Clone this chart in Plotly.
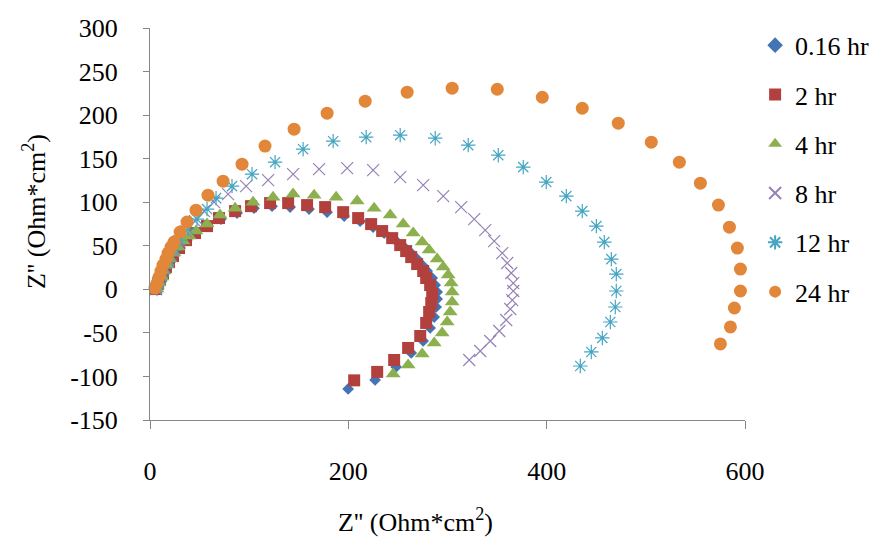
import plotly.graph_objects as go

# ---- data ----
series_names = ["0.16 hr", "2 hr", "4 hr", "8 hr", "12 hr", "24 hr"]

x_016 = [6.1, 8.1, 10.1, 13.1, 16.1, 20.2, 24.2, 30.3, 37.3, 46.4, 58.5, 71.6, 87.8, 104.9, 123.1, 141.3,
         160.4, 178.6, 195.8, 211.9, 225.0, 236.1, 246.2, 255.3, 262.4, 268.4, 274.5, 279.5, 284.6, 287.6,
         289.6, 289.6, 288.6, 286.6, 282.5, 275.5, 263.4, 248.2, 227.0, 199.8]
y_016 = [0.3, 6.1, 11.8, 18.7, 24.4, 31.3, 38.2, 47.4, 56.5, 64.6, 72.6, 80.6, 87.5, 93.2, 95.5, 94.4,
         92.1, 88.6, 84.1, 78.3, 71.4, 64.6, 57.7, 49.7, 42.8, 35.9, 27.9, 21.0, 13.0, 4.9,
         -3.1, -11.1, -20.3, -31.8, -44.4, -59.3, -73.0, -89.1, -104.0, -114.3]

x_2 = [6.1, 8.1, 10.1, 13.1, 16.1, 19.2, 23.2, 29.3, 36.3, 45.4, 57.5, 69.6, 85.8, 101.9, 121.1, 139.3,
       158.4, 176.6, 194.8, 209.9, 223.0, 234.1, 244.2, 252.3, 258.3, 263.4, 269.4, 275.5, 278.5, 282.5,
       284.6, 283.6, 281.5, 278.5, 272.5, 260.3, 246.2, 229.1, 205.9]
y_2 = [0.3, 6.1, 11.8, 18.7, 25.6, 31.3, 38.2, 47.4, 56.5, 64.6, 72.6, 81.8, 89.8, 95.5, 99.0, 99.0,
       96.7, 94.4, 88.6, 81.8, 74.9, 66.9, 58.8, 50.8, 43.9, 37.0, 29.0, 21.0, 13.0, 4.9,
       -5.4, -15.7, -26.0, -38.6, -53.6, -67.3, -81.1, -94.8, -104.5]

x_4 = [7.1, 9.1, 12.1, 14.1, 17.2, 20.2, 24.2, 28.3, 33.3, 39.4, 46.4, 57.5, 70.6, 85.8, 103.9, 124.1,
       144.3, 165.5, 187.7, 208.9, 226.0, 242.2, 255.3, 265.4, 274.5, 281.5, 289.6, 295.7, 300.7, 303.7,
       304.7, 304.7, 302.7, 299.7, 294.6, 286.6, 274.5, 260.3, 245.2]
y_4 = [0.3, 7.2, 14.1, 21.0, 27.9, 34.8, 41.6, 48.5, 55.4, 61.1, 66.9, 74.9, 85.2, 93.2, 100.1, 105.8,
       109.3, 108.1, 105.8, 101.3, 93.2, 85.2, 74.9, 64.6, 54.2, 45.1, 34.7, 25.6, 16.4, 7.2,
       -3.1, -14.6, -26.0, -37.5, -50.0, -61.6, -74.2, -86.8, -97.1]

x_8 = [6.1, 8.1, 11.1, 14.1, 18.2, 23.2, 29.3, 36.3, 45.4, 54.5, 64.6, 78.7, 96.9, 119.1, 144.3, 170.5,
       198.8, 225.0, 252.3, 275.5, 295.7, 313.8, 326.9, 338.0, 347.1, 355.2, 360.2, 364.3, 366.3, 366.3,
       365.3, 363.3, 359.2, 352.2, 343.1, 333.0, 321.9]
y_8 = [0.3, 7.2, 15.3, 24.4, 33.6, 43.9, 55.4, 66.9, 78.3, 89.8, 100.1, 109.3, 118.5, 125.3, 132.2, 138.0,
       139.1, 136.8, 128.8, 119.6, 107.0, 94.4, 80.6, 68.0, 55.4, 41.6, 30.2, 18.7, 7.2, -1.9,
       -12.3, -22.6, -35.2, -47.8, -59.3, -70.8, -81.1]

x_12 = [7.1, 9.1, 12.1, 15.1, 19.2, 24.2, 30.3, 38.3, 47.4, 57.5, 66.6, 82.7, 102.9, 126.1, 154.4, 184.7,
        218.0, 252.3, 287.6, 320.9, 351.2, 376.4, 399.6, 419.8, 435.9, 450.1, 458.1, 465.2, 470.2, 470.2,
        469.2, 464.2, 456.1, 445.0, 433.9]
y_12 = [0.3, 7.2, 15.3, 24.4, 33.6, 45.1, 56.5, 69.2, 80.6, 92.1, 104.7, 118.5, 132.2, 146.0, 160.9, 170.1,
        174.7, 177.0, 173.5, 165.5, 154.0, 140.3, 123.1, 107.0, 89.8, 72.6, 54.2, 34.7, 17.5, -1.9,
        -20.3, -37.5, -55.8, -71.9, -88.0]

x_24 = [5.0, 7.1, 9.1, 11.1, 13.1, 16.1, 18.2, 21.2, 24.2, 30.3, 37.3, 46.4, 58.5, 73.7, 92.8, 116.0,
        145.3, 178.6, 217.0, 259.3, 304.7, 350.2, 395.6, 435.9, 472.2, 505.5, 533.8, 555.0, 573.2, 584.3,
        592.3, 595.4, 595.4, 589.3, 585.3, 575.2]
y_24 = [1.5, 7.2, 14.1, 21.0, 27.9, 34.8, 41.6, 48.5, 54.2, 65.7, 77.2, 90.9, 108.1, 124.2, 143.7, 164.4,
        183.9, 202.2, 216.0, 226.3, 230.9, 229.7, 220.5, 207.9, 190.7, 168.9, 146.0, 121.9, 96.7, 71.4,
        47.4, 23.3, -1.9, -21.4, -43.2, -62.7]

x_ticks = [0, 200, 400, 600]
x_tick_labels = ["0", "200", "400", "600"]
y_ticks = [-150, -100, -50, 0, 50, 100, 150, 200, 250, 300]
y_tick_labels = ["-150", "-100", "-50", "0", "50", "100", "150", "200", "250", "300"]

# ---- styling ----
FONT = "Liberation Serif"
FS = 26
styles = [
    dict(symbol="diamond", size=9, color="#4474B4", line=dict(width=0)),
    dict(symbol="square", size=12, color="#B2413E", line=dict(width=0)),
    dict(symbol="triangle-up", size=13, color="#8DB04E", line=dict(width=0)),
    dict(symbol="x-thin-open", size=12, color="#9682B6", line=dict(width=1.2, color="#9682B6")),
    dict(symbol="asterisk-open", size=12, color="#45A5C2", line=dict(width=1.2, color="#45A5C2")),
    dict(symbol="circle", size=13, color="#E2873A", line=dict(width=0)),
]
xs = [x_016, x_2, x_4, x_8, x_12, x_24]
ys = [y_016, y_2, y_4, y_8, y_12, y_24]

fig = go.Figure()
for i, (name, xv, yv, st) in enumerate(zip(series_names, xs, ys, styles)):
    fig.add_trace(go.Scatter(x=xv, y=yv, mode="markers", name=name, marker=st,
                             legendgroup=f"g{i}", cliponaxis=False))

W, H = 883, 538
L, R, T, B = 150, 138, 28, 118
fig.update_layout(
    width=W, height=H,
    margin=dict(l=L, r=R, t=T, b=B, autoexpand=False),
    paper_bgcolor="white", plot_bgcolor="white",
    font=dict(family=FONT, size=FS, color="black"),
    showlegend=True,
    legend=dict(x=1.017, xanchor="left", y=1.016, yanchor="top", maxheight=520,
                font=dict(family=FONT, size=FS, color="black"),
                tracegroupgap=12.5, itemsizing="constant", bgcolor="rgba(0,0,0,0)"),
    xaxis=dict(range=[0, 600], tickvals=x_ticks, ticktext=x_tick_labels, ticks="outside", ticklen=8,
               tickcolor="#868686", showline=True, linecolor="#868686", linewidth=1, showgrid=False,
               zeroline=False, ticklabelstandoff=20, tickfont=dict(family=FONT, size=FS)),
    yaxis=dict(range=[-150, 300], tickvals=y_ticks, ticktext=y_tick_labels, ticks="outside", ticklen=6,
               tickcolor="#868686", showline=True, linecolor="#868686", linewidth=1, showgrid=False,
               zeroline=False, ticklabelstandoff=20, tickfont=dict(family=FONT, size=FS)),
    annotations=[
        dict(text="Z'' (Ohm*cm<sup>2</sup>)", xref="paper", yref="paper",
             x=(415 - L) / (W - L - R), y=-(520 - (H - B)) / (H - T - B),
             xanchor="center", yanchor="middle", showarrow=False,
             font=dict(family=FONT, size=FS)),
        dict(text="Z'' (Ohm*cm<sup>2</sup>)", xref="paper", yref="paper",
             x=-(L - 34) / (W - L - R), y=((H - B) - 212) / (H - T - B),
             xanchor="center", yanchor="middle", textangle=-90, showarrow=False,
             font=dict(family=FONT, size=FS)),
    ],
)

fig.write_html("out.html", config={"displayModeBar": False},
               post_script="document.body.style.margin='0';document.body.style.overflow='hidden';")
